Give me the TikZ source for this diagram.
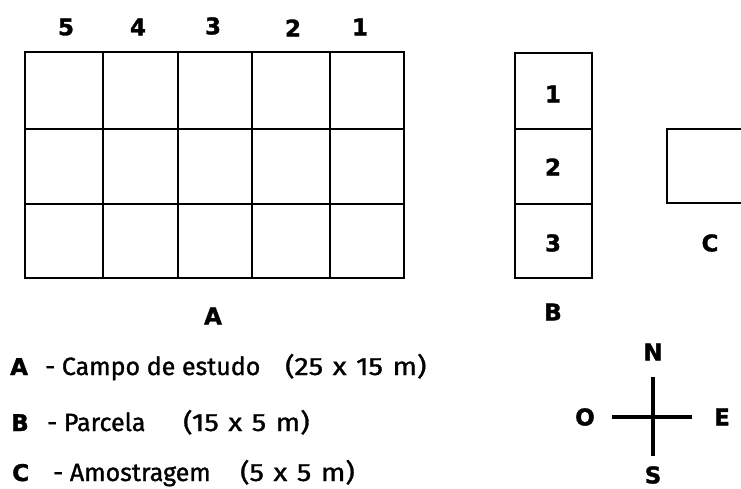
\documentclass[tikz,border=0pt]{standalone}
\usepackage{fontspec}
\setmainfont{Fira Sans}
\newfontfamily\labfont[FakeBold=1.5]{DejaVu Sans}
\newfontfamily\legfont[FakeBold=1.2]{Fira Sans}
\newfontfamily\dimfont[FakeBold=1.2,FakeStretch=1.15,WordSpace=1.25]{Fira Sans}
\begin{document}
\begin{tikzpicture}[x=1pt,y=-1pt,
  gridline/.style={line width=2.6pt},
  lab/.style={font=\labfont\fontsize{23}{26}\selectfont\bfseries, inner sep=0pt},
  leglab/.style={font=\labfont\fontsize{23}{26}\selectfont\bfseries, inner sep=0pt, anchor=base west},
  leg/.style={font=\legfont\fontsize{25}{30}\selectfont, inner sep=0pt, anchor=base west},
  dims/.style={font=\dimfont\fontsize{25}{30}\selectfont, inner sep=0pt, anchor=base west},
  cross/.style={line width=3.8pt}]
\useasboundingbox (0,0) rectangle (741,489);
% Field A
\draw[gridline] (25,52) rectangle (404,278);
\foreach \x in {103,178,252,330} \draw[gridline] (\x,52) -- (\x,278);
\foreach \y in {129,204} \draw[gridline] (25,\y) -- (404,\y);
\node[lab] (c5) at (66,27) {5};
\node[lab] (c4) at (138,27) {4};
\node[lab] (c3) at (213,26) {3};
\node[lab] (c2) at (293,28) {2};
\node[lab] (c1) at (360,27) {1};
\node[lab] (la) at (213,316) {A};
% Plot B
\draw[gridline] (515,53) rectangle (592,278);
\foreach \y in {129,204} \draw[gridline] (515,\y) -- (592,\y);
\node[lab] (b1) at (553,94) {1};
\node[lab] (b2) at (553,167) {2};
\node[lab] (b3) at (553,243) {3};
\node[lab] (lb) at (553,312) {B};
% Sample C
\draw[gridline] (745,129) -- (667,129) -- (667,203) -- (745,203);
\node[lab] (lc) at (710,243) {C};
% Legend
\node[leglab] (lA) at (10,375) {A};
\node[leg] (dA) at (45,375) {- Campo de estudo};
\node[dims] (mA) at (285,375) {(25 x 15 m)};
\node[leglab] (lB) at (11,431) {B};
\node[leg] (dB) at (47,431) {- Parcela};
\node[dims] (mB) at (183,431) {(15 x 5 m)};
\node[leglab] (lC) at (12,481) {C};
\node[leg] (dC) at (53,481) {- Amostragem};
\node[dims] (mC) at (240,481) {(5 x 5 m)};
% Compass
\coordinate (n) at (653,377);
\coordinate (s) at (653,456);
\coordinate (w) at (612,417);
\coordinate (e) at (692,417);
\draw[cross] (n) -- (s);
\draw[cross] (w) -- (e);
\node[lab] (N) at (653,352) {N};
\node[lab] (S) at (653,475) {S};
\node[lab] (O) at (585,417) {O};
\node[lab] (E) at (722,417) {E};
\end{tikzpicture}
\end{document}
